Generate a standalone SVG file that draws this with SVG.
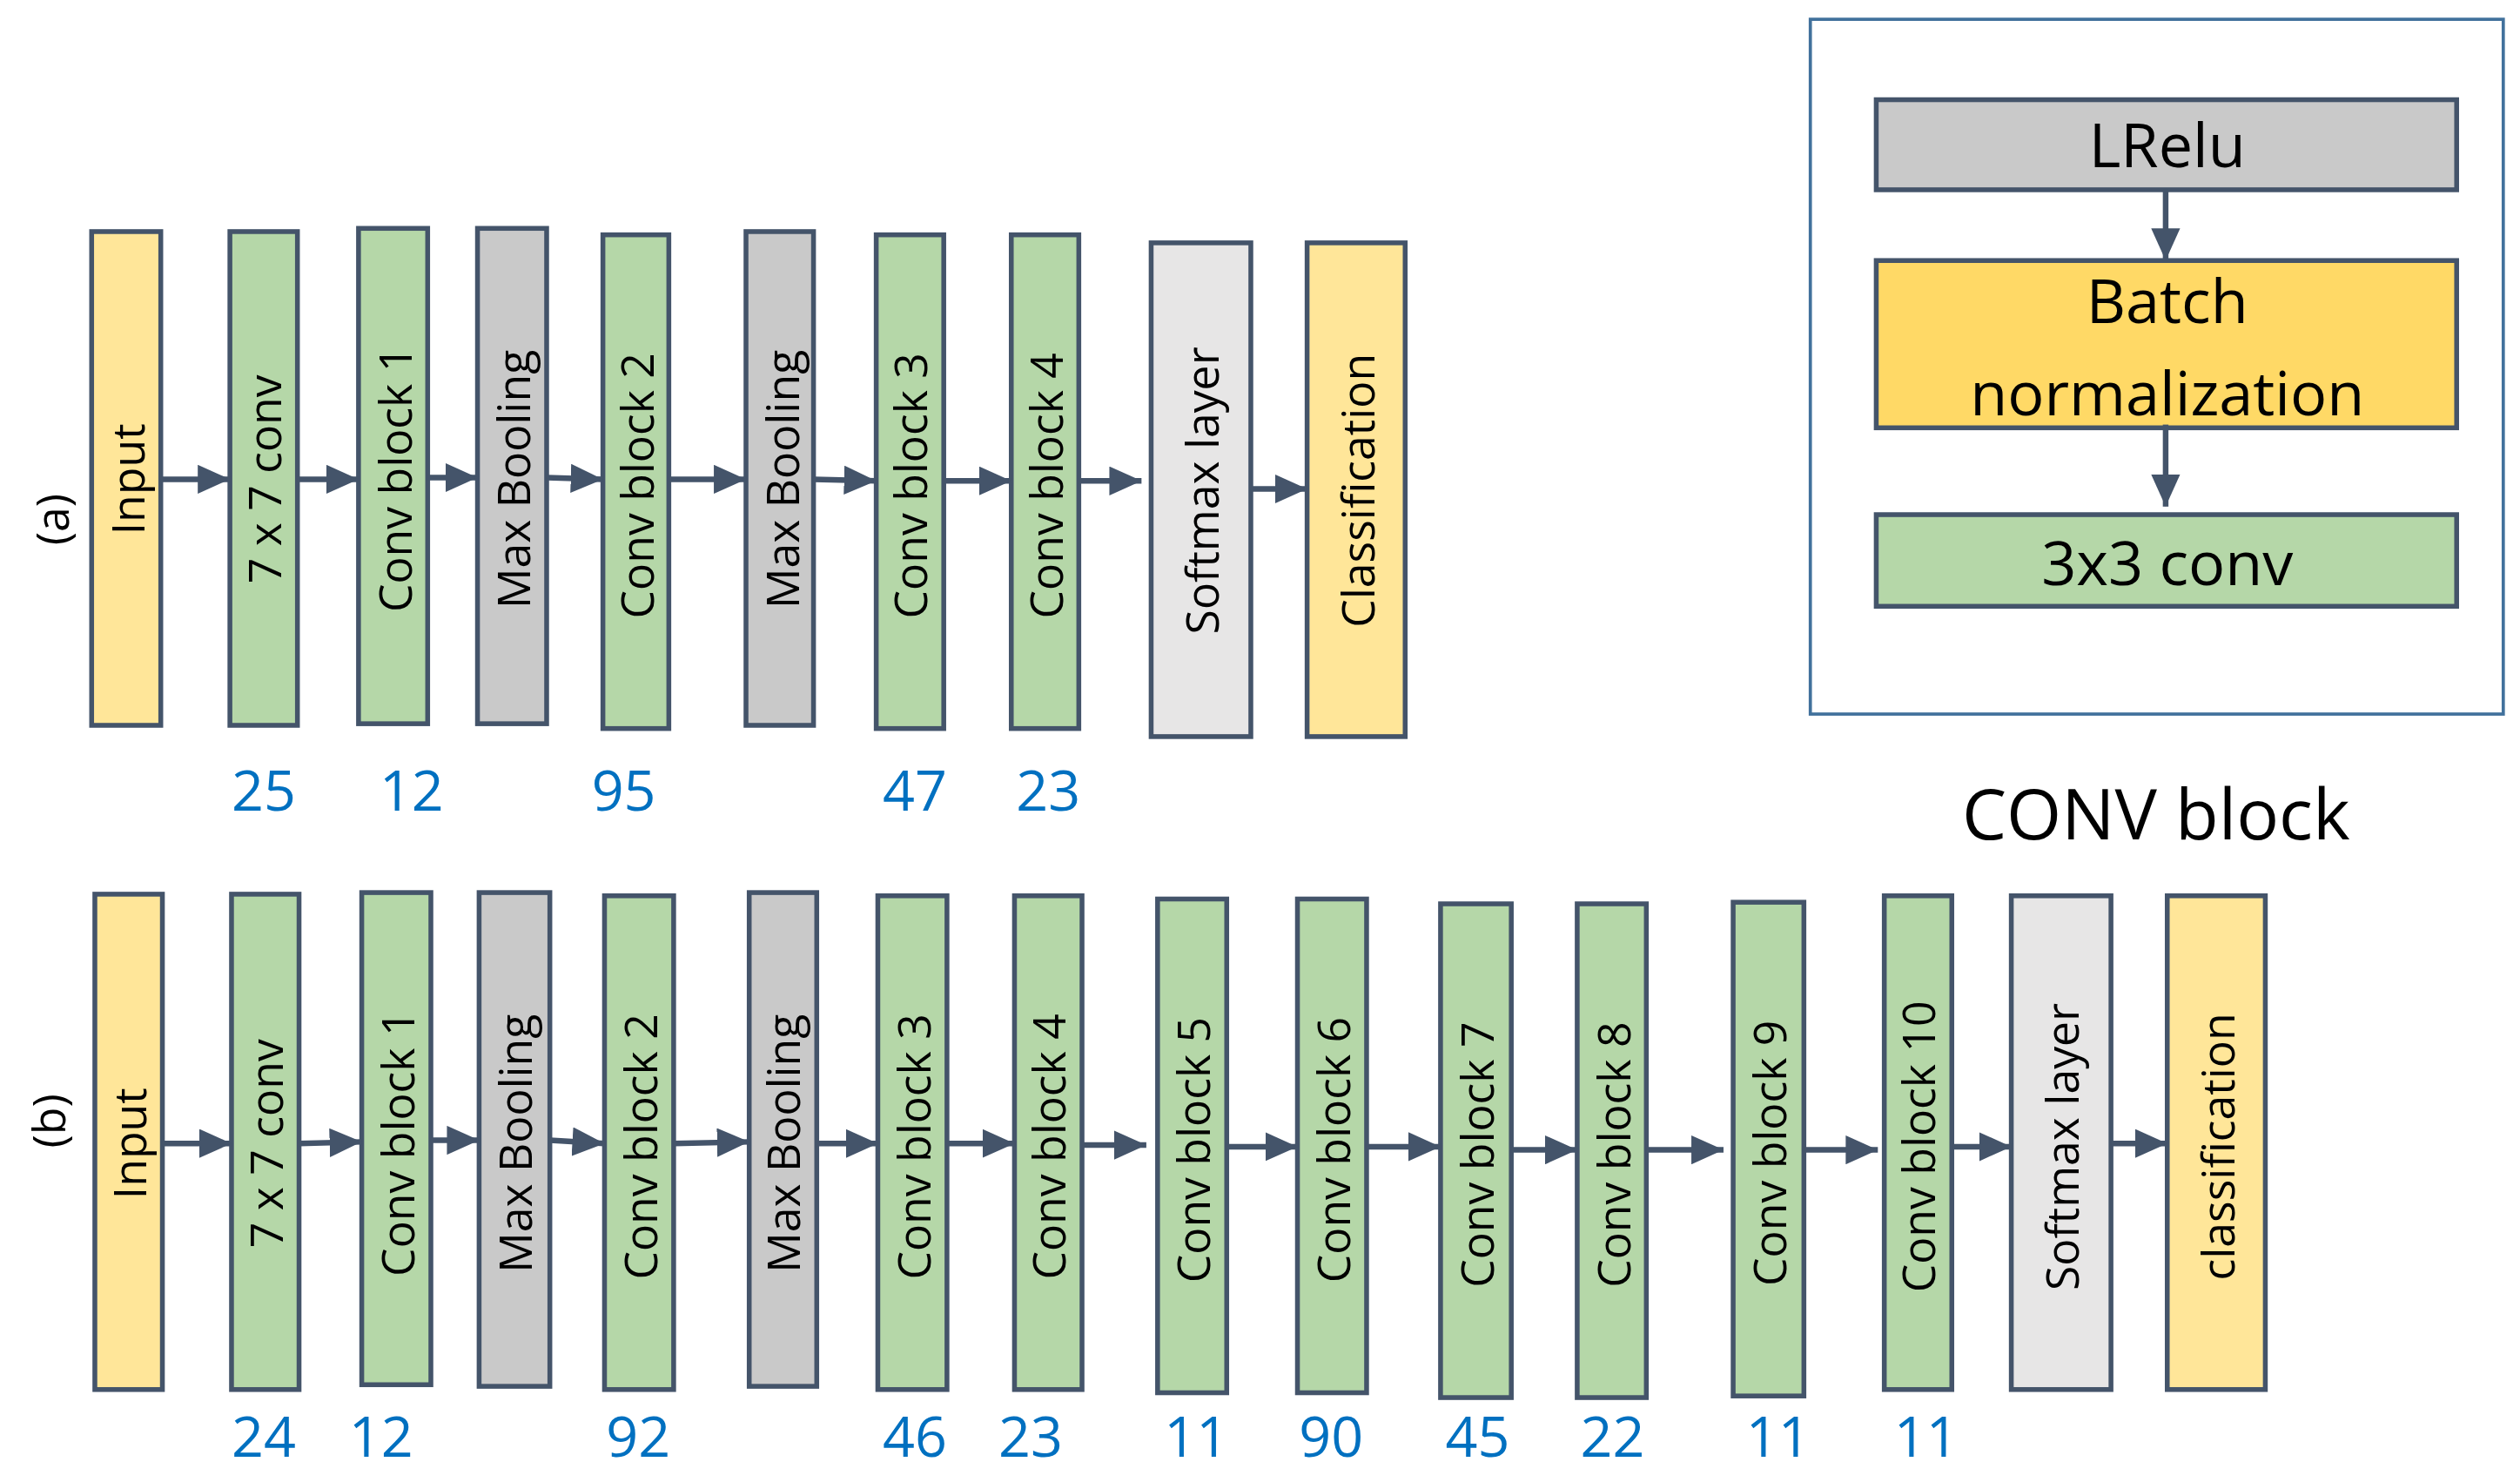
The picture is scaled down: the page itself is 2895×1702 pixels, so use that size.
<svg xmlns="http://www.w3.org/2000/svg" width="2895" height="1702" viewBox="0 0 2895 1702">
<style>
.b{stroke:#44546A;stroke-width:3}
.y{fill:#FFE699}.g{fill:#B5D7A8}.m{fill:#C9C9C9}.s{fill:#E7E6E6}.o{fill:#FFD966}
text{font-family:"Open Sans","Noto Sans",sans-serif;fill:#000}
.l{font-size:28px;text-anchor:middle;dominant-baseline:central}
.n{font-size:35px;fill:#0070C0;text-anchor:middle}
.p{font-size:38px;text-anchor:middle}
.c{stroke:#44546A;stroke-width:3.5;fill:none;marker-end:url(#ah)}
</style>
<defs>
<marker id="ah" markerUnits="userSpaceOnUse" markerWidth="20" markerHeight="18" refX="20" refY="9" orient="auto"><path d="M0,0L20,9L0,18Z" fill="#44546A"/></marker>
</defs>
<rect width="2895" height="1702" fill="#fff"/>
<g transform="scale(1.847)">
<text x="32" y="323" font-size="28" text-anchor="middle" dominant-baseline="central" transform="rotate(-90 32 323)">(a)</text>
<text x="30" y="697" font-size="28" text-anchor="middle" dominant-baseline="central" transform="rotate(-90 30 697)">(b)</text>
<g id="a1"><rect class="b y" x="57" y="144" width="43" height="307"/><text class="l" transform="translate(79,298) rotate(-90)">Input</text></g>
<g id="a2"><rect class="b g" x="143" y="144" width="42" height="307"/><text class="l" transform="translate(164,298) rotate(-90)">7 x 7 conv</text></g>
<g id="a3"><rect class="b g" x="223" y="142" width="43" height="308"/><text class="l" transform="translate(245,298) rotate(-90)">Conv block 1</text></g>
<g id="a4"><rect class="b m" x="297" y="142" width="43" height="308"/><text class="l" transform="translate(319,298) rotate(-90)">Max Booling</text></g>
<g id="a5"><rect class="b g" x="375" y="146" width="41" height="307"/><text class="l" transform="translate(396,302) rotate(-90)">Conv block 2</text></g>
<g id="a6"><rect class="b m" x="464" y="144" width="42" height="307"/><text class="l" transform="translate(486,298) rotate(-90)">Max Booling</text></g>
<g id="a7"><rect class="b g" x="545" y="146" width="42" height="307"/><text class="l" transform="translate(566,302) rotate(-90)">Conv block 3</text></g>
<g id="a8"><rect class="b g" x="629" y="146" width="42" height="307"/><text class="l" transform="translate(650,302) rotate(-90)">Conv block 4</text></g>
<g id="a9"><rect class="b s" x="716" y="151" width="62" height="307"/><text class="l" transform="translate(747,305) rotate(-90)">Softmax layer</text></g>
<g id="a10"><rect class="b y" x="813" y="151" width="61" height="307"/><text class="l" transform="translate(844,305) rotate(-90)">Classification</text></g>
<g id="an"><text class="n" x="164" y="504">25</text><text class="n" x="256" y="504">12</text><text class="n" x="388" y="504">95</text><text class="n" x="569" y="504">47</text><text class="n" x="652" y="504">23</text></g>
<g id="b1"><rect class="b y" x="59" y="556" width="42" height="308"/><text class="l" transform="translate(80,711) rotate(-90)">Input</text></g>
<g id="b2"><rect class="b g" x="144" y="556" width="42" height="308"/><text class="l" transform="translate(165,711) rotate(-90)">7 x 7 conv</text></g>
<g id="b3"><rect class="b g" x="225" y="555" width="43" height="306"/><text class="l" transform="translate(247,711) rotate(-90)">Conv block 1</text></g>
<g id="b4"><rect class="b m" x="298" y="555" width="44" height="307"/><text class="l" transform="translate(320,711) rotate(-90)">Max Booling</text></g>
<g id="b5"><rect class="b g" x="376" y="557" width="43" height="307"/><text class="l" transform="translate(398,713) rotate(-90)">Conv block 2</text></g>
<g id="b6"><rect class="b m" x="466" y="555" width="42" height="307"/><text class="l" transform="translate(487,711) rotate(-90)">Max Booling</text></g>
<g id="b7"><rect class="b g" x="546" y="557" width="43" height="307"/><text class="l" transform="translate(568,713) rotate(-90)">Conv block 3</text></g>
<g id="b8"><rect class="b g" x="631" y="557" width="42" height="307"/><text class="l" transform="translate(652,713) rotate(-90)">Conv block 4</text></g>
<g id="b9"><rect class="b g" x="720" y="559" width="43" height="307"/><text class="l" transform="translate(742,715) rotate(-90)">Conv block 5</text></g>
<g id="b10"><rect class="b g" x="807" y="559" width="43" height="307"/><text class="l" transform="translate(829,715) rotate(-90)">Conv block 6</text></g>
<g id="b11"><rect class="b g" x="896" y="562" width="44" height="307"/><text class="l" transform="translate(918,718) rotate(-90)">Conv block 7</text></g>
<g id="b12"><rect class="b g" x="981" y="562" width="43" height="307"/><text class="l" transform="translate(1003,718) rotate(-90)">Conv block 8</text></g>
<g id="b13"><rect class="b g" x="1078" y="561" width="44" height="307"/><text class="l" transform="translate(1100,717) rotate(-90)">Conv block 9</text></g>
<g id="b14"><rect class="b g" x="1172" y="557" width="42" height="307"/><text class="l" transform="translate(1193,713) rotate(-90)">Conv block 10</text></g>
<g id="b15"><rect class="b s" x="1251" y="557" width="62" height="307"/><text class="l" transform="translate(1282,713) rotate(-90)">Softmax layer</text></g>
<g id="b16"><rect class="b y" x="1348" y="557" width="61" height="307"/><text class="l" transform="translate(1379,713) rotate(-90)">classification</text></g>
<g id="bn"><text class="n" x="164" y="906">24</text><text class="n" x="237" y="906">12</text><text class="n" x="397" y="906">92</text><text class="n" x="569" y="906">46</text><text class="n" x="641" y="906">23</text><text class="n" x="744" y="906">11</text><text class="n" x="828" y="906">90</text><text class="n" x="919" y="906">45</text><text class="n" x="1003" y="906">22</text><text class="n" x="1106" y="906">11</text><text class="n" x="1198" y="906">11</text></g>
<g id="panel"><rect x="1126" y="12" width="431" height="432" fill="none" stroke="#41719C" stroke-width="2"/>
<text x="1341" y="522" font-size="44" text-anchor="middle">CONV block</text></g>
<g id="p1"><rect class="b m" x="1167" y="62" width="361" height="56"/><text class="p" x="1348" y="104">LRelu</text></g>
<g id="p2"><rect class="b o" x="1167" y="162" width="361" height="104"/><text class="p" x="1348" y="201">Batch</text><text class="p" x="1348" y="258">normalization</text></g>
<g id="p3"><rect class="b g" x="1167" y="320" width="361" height="57"/><text class="p" x="1348" y="364">3x3 conv</text></g>
<g id="connectors">
<path class="c" d="M100,298H143"/><path class="c" d="M185,298H223"/><path class="c" d="M266,297H297"/><path class="c" d="M340,297L375,298"/><path class="c" d="M416,298H464"/><path class="c" d="M506,298L545,299"/><path class="c" d="M587,299H629"/><path class="c" d="M671,299H710"/><path class="c" d="M778,304H813"/>
<path class="c" d="M101,711H144"/><path class="c" d="M186,711L225,710"/><path class="c" d="M268,709H298"/><path class="c" d="M342,709L376,711"/><path class="c" d="M419,711L466,710"/><path class="c" d="M508,711H546"/><path class="c" d="M589,711H631"/><path class="c" d="M673,712H713"/><path class="c" d="M763,713H807"/><path class="c" d="M850,713H896"/><path class="c" d="M940,715H981"/><path class="c" d="M1024,715H1072"/><path class="c" d="M1122,715H1168"/><path class="c" d="M1214,713H1251"/><path class="c" d="M1313,711H1348"/>
<path class="c" d="M1347,118V162"/><path class="c" d="M1347,264V315"/>
</g>
</g>
</svg>
